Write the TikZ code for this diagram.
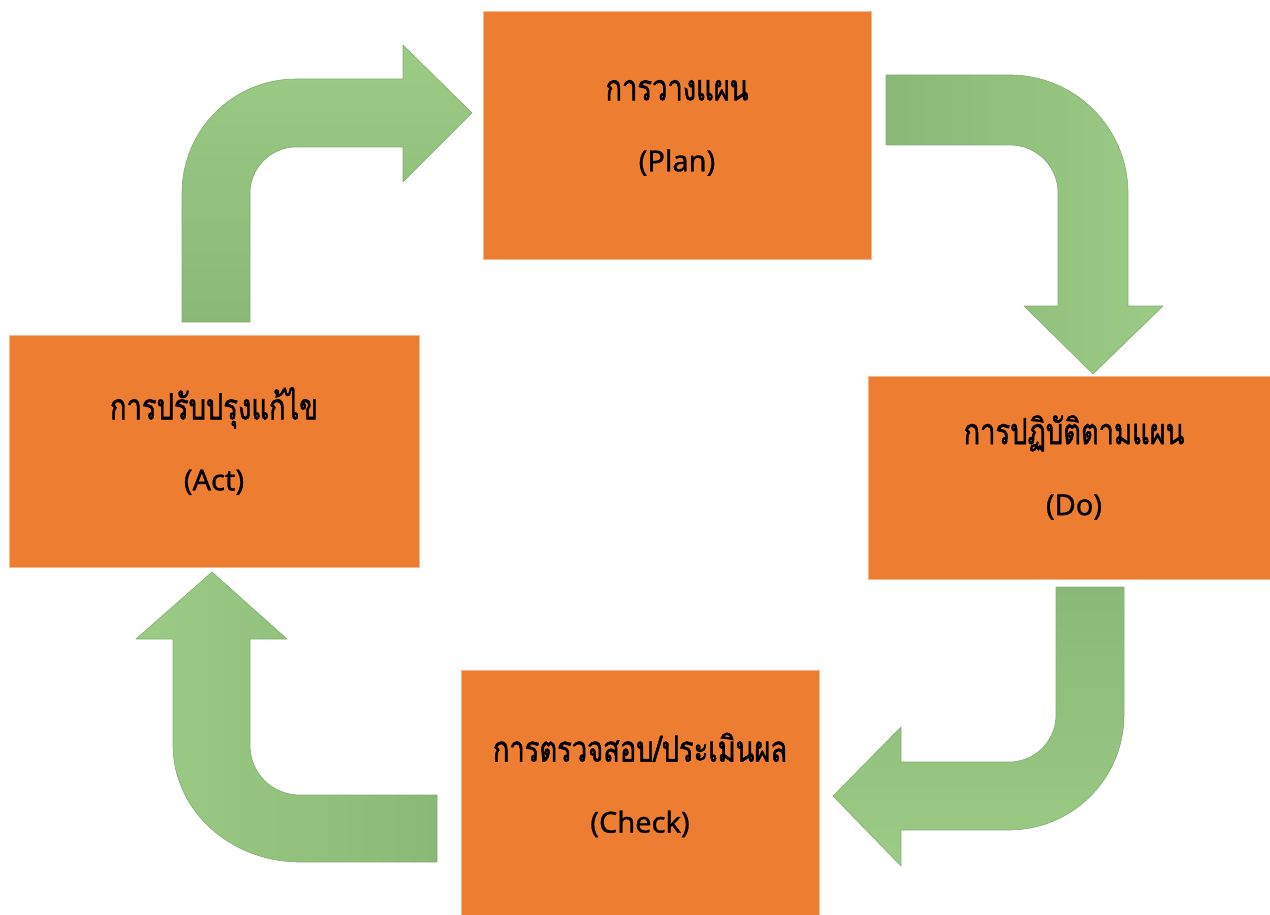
\documentclass[tikz,border=0pt]{standalone}
\usepackage{fontspec}
\setmainfont{Noto Sans}[FakeBold=0.8]
\newfontfamily\thaifont[Script=Thai,Scale=1.24,FakeStretch=0.76,FakeBold=1.2]{Loma}
\usetikzlibrary{positioning}

\definecolor{boxorange}{HTML}{ED7D31}
\definecolor{arrowdark}{HTML}{8AB876}
\definecolor{arrowlight}{HTML}{9CCB86}
\definecolor{arrowedge}{HTML}{86AE73}

\tikzset{
  pdcabox/.style={fill=boxorange, draw=boxorange!55!white, line width=0.8pt, inner sep=0pt},
  pdcatext/.style={align=center, font=\fontsize{29}{71}\selectfont},
  bentarrow/.style={draw=arrowedge, line width=0.6pt, line join=round},
}

\begin{document}
\begin{tikzpicture}[x=1pt,y=-1pt]
\useasboundingbox (0,0) rectangle (1270,915);

% the four steps
\node[pdcabox, minimum width=388pt, minimum height=248pt] (plan)  at (677,135)   {};
\node[pdcabox, minimum width=412pt, minimum height=203pt] (do)    at (1074,477.5) {};
\node[pdcabox, minimum width=358pt, minimum height=248pt] (check) at (640,794)   {};
\node[pdcabox, minimum width=410pt, minimum height=232pt] (act)   at (214,451)   {};

\node[pdcatext] (plantxt)  at ([yshift=7pt]plan.center)  {{\thaifont การวางแผน}\\(Plan)};
\node[pdcatext] (dotxt)    at ([yshift=10pt]do.center)   {{\thaifont การปฏิบัติตามแผน}\\(Do)};
\node[pdcatext] (checktxt) at ([yshift=9pt]check.center) {{\thaifont การตรวจสอบ/ประเมินผล}\\(Check)};
\node[pdcatext] (acttxt)   at ([yshift=10pt]act.center)  {{\thaifont การปรับปรุงแก้ไข}\\(Act)};

% bent arrows between the steps
\draw[bentarrow, top color=arrowlight, bottom color=arrowdark]
  (182,322) -- (182,193) .. controls (182,130) and (233,79) .. (296,79) -- (403,79)
  -- (403,45) -- (472,113) -- (403,182) -- (403,147) -- (296,147)
  .. controls (271,147) and (250,168) .. (250,193) -- (250,322) -- cycle;
\draw[bentarrow, left color=arrowdark, right color=arrowlight]
  (886,75) -- (1010,75) .. controls (1075,75) and (1128,128) .. (1128,193) -- (1128,306)
  -- (1163,306) -- (1093,374) -- (1024,306) -- (1058,306) -- (1058,193)
  .. controls (1058,166.5) and (1036.5,145) .. (1010,145) -- (886,145) -- cycle;
\draw[bentarrow, top color=arrowdark, bottom color=arrowlight]
  (1056,587) -- (1124,587) -- (1124,715) .. controls (1124,778.5) and (1072.5,830) .. (1009,830)
  -- (901,830) -- (901,866) -- (833,796) -- (901,727) -- (901,762) -- (1009,762)
  .. controls (1035,762) and (1056,741) .. (1056,715) -- cycle;
\draw[bentarrow, left color=arrowlight, right color=arrowdark]
  (437,862) -- (300,862) .. controls (230,862) and (173,810) .. (173,745) -- (173,639)
  -- (136,639) -- (212,572) -- (287,639) -- (250,639) -- (250,745)
  .. controls (250,773) and (272,795) .. (300,795) -- (437,795) -- cycle;
\end{tikzpicture}
\end{document}
